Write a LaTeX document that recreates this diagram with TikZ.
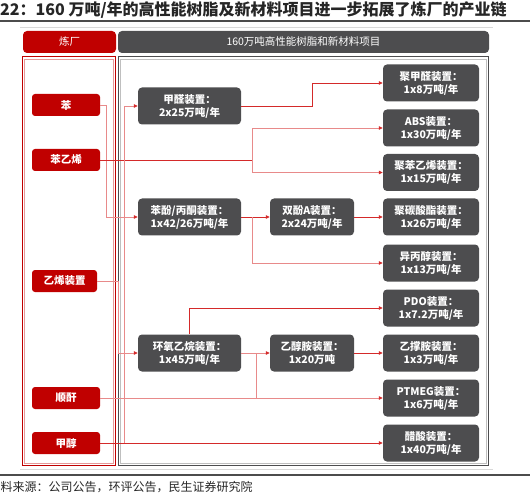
\documentclass[tikz,border=0pt]{standalone}
\usepackage{fontspec}
\setmainfont{Noto Sans CJK SC}
\usetikzlibrary{arrows.meta}
\definecolor{myred}{HTML}{C00000}
\definecolor{mygray}{HTML}{4D4D4F}
\definecolor{lnred}{HTML}{D42A2A}
\definecolor{lnlight}{HTML}{E88A8A}
\tikzset{
  redbox/.style={fill=myred, rounded corners=3pt, text=white, font=\fontsize{10.5}{12}\selectfont\bfseries, inner sep=0pt, minimum width=68pt, minimum height=22pt},
  graybox/.style={fill=mygray, rounded corners=4pt, text=white, font=\fontsize{10.5}{13}\selectfont\bfseries, align=center, inner sep=0pt, minimum height=37pt},
  lnA/.style={draw=lnred, line width=0.8pt},
  lnB/.style={draw=lnlight, line width=0.8pt},
  arr/.style={arrows={-{Triangle[length=4pt,width=3.5pt,color=lnred]}}}
}
\begin{document}
\begin{tikzpicture}[x=1pt,y=-1pt]
\useasboundingbox (0,0) rectangle (530,497);
% title
\node[anchor=west, inner sep=0pt, font=\fontsize{16}{18}\selectfont\bfseries, text=black!85] (title) at (0,10) {22：160 万吨/年的高性能树脂及新材料项目进一步拓展了炼厂的产业链};
\draw[black!70, line width=1.5pt] (0,21) -- (530,21);
\draw[black!15, line width=1pt] (20,28) -- (493,28);
% headers
\node[fill=myred, rounded corners=4pt, text=white, font=\fontsize{10.5}{12}\selectfont, minimum width=93pt, minimum height=22pt, inner sep=0pt] (hdrA) at (69.5,42) {炼厂};
\node[fill=mygray, rounded corners=4pt, text=white, font=\fontsize{10.5}{12}\selectfont, minimum width=371pt, minimum height=22pt, inner sep=0pt] (hdrB) at (303.5,42) {160万吨高性能树脂和新材料项目};
% frames
\draw[myred, line width=1pt] (22,57) rectangle (115,465);
\draw[myred!40, line width=0.6pt] (24,59) rectangle (113,463);
\draw[mygray, line width=1pt] (118,57) rectangle (488,465);
\draw[black!25, line width=0.6pt] (120,59) rectangle (486,463);
% footer
\draw[black!15, line width=1pt] (20,469) -- (493,469);
\draw[black!70, line width=1.5pt] (0,475) -- (530,475);
\node[anchor=west, inner sep=0pt, font=\fontsize{12}{14}\selectfont, text=black!85] (src) at (0.5,487) {料来源：公司公告，环评公告，民生证券研究院};
% left red nodes
\node[redbox] (ben) at (66,105) {苯};
\node[redbox] (styr) at (66,160) {苯乙烯};
\node[redbox, minimum width=65pt] (eth) at (64.5,281) {乙烯装置};
\node[redbox] (ma) at (66,398) {顺酐};
\node[redbox] (meoh) at (66,443) {甲醇};
% middle gray nodes
\node[graybox, minimum width=103pt] (hcho) at (189.5,106) {甲醛装置：\\2x25万吨/年};
\node[graybox, minimum width=103pt] (phenol) at (189.5,217) {苯酚/丙酮装置：\\1x42/26万吨/年};
\node[graybox, minimum width=103pt] (eo) at (189.5,353) {环氧乙烷装置：\\1x45万吨/年};
\node[graybox, minimum width=84pt] (bpa) at (312,217) {双酚A装置：\\2x24万吨/年};
\node[graybox, minimum width=84pt] (ea) at (312,353) {乙醇胺装置：\\1x20万吨};
% right gray nodes
\node[graybox, minimum width=96pt] (pom) at (431,83) {聚甲醛装置：\\1x8万吨/年};
\node[graybox, minimum width=96pt] (abs) at (431,128) {ABS装置：\\1x30万吨/年};
\node[graybox, minimum width=96pt] (ps) at (431,172.5) {聚苯乙烯装置：\\1x15万吨/年};
\node[graybox, minimum width=96pt] (pc) at (431,217) {聚碳酸酯装置：\\1x26万吨/年};
\node[graybox, minimum width=96pt] (ipa) at (431,263) {异丙醇装置：\\1x13万吨/年};
\node[graybox, minimum width=96pt] (pdo) at (431,308) {PDO装置：\\1x7.2万吨/年};
\node[graybox, minimum width=96pt] (eda) at (431,353) {乙撑胺装置：\\1x3万吨/年};
\node[graybox, minimum width=96pt] (ptmeg) at (431,398) {PTMEG装置：\\1x6万吨/年};
\node[graybox, minimum width=96pt] (aa) at (431,443) {醋酸装置：\\1x40万吨/年};
% junction coordinates
\coordinate (jBen) at (106,105);
\coordinate (jSty) at (252,160);
\coordinate (jHcho) at (312,106);
\coordinate (jMeoh) at (124,443);
\coordinate (jEth) at (118,281);
\coordinate (jPhe) at (252,217);
\coordinate (jEo) at (256,353);
\coordinate (jMa) at (256,398);
% connectors
\draw[lnB,arr] (ben.east) -- (jBen) |- (phenol.west);
\draw[lnA] (styr.east) -- (jSty);
\draw[lnB,arr] (jSty) |- (abs.west);
\draw[lnB,arr] (jSty) |- (ps.west);
\draw[lnA,arr] (hcho.east) -- (jHcho) |- (pom.west);
\draw[lnB,arr] (meoh.east) -- (jMeoh) |- (hcho.west);
\draw[lnA,arr] (meoh.east) -- (aa.west);
\draw[lnB,arr] (eth.east) -- (jEth) |- (eo.west);
\draw[lnA,arr] (phenol.east) -- (bpa.west);
\draw[lnB,arr] (jPhe) |- (ipa.west);
\draw[lnA,arr] (bpa.east) -- (pc.west);
\draw[lnA,arr] (eo.north) |- (pdo.west);
\draw[lnB,arr] (eo.east) -- (ea.west);
\draw[lnB] (jEo) -- (jMa);
\draw[lnB,arr] (ma.east) -- (ptmeg.west);
\draw[lnA,arr] (ea.east) -- (eda.west);
\end{tikzpicture}
\end{document}
